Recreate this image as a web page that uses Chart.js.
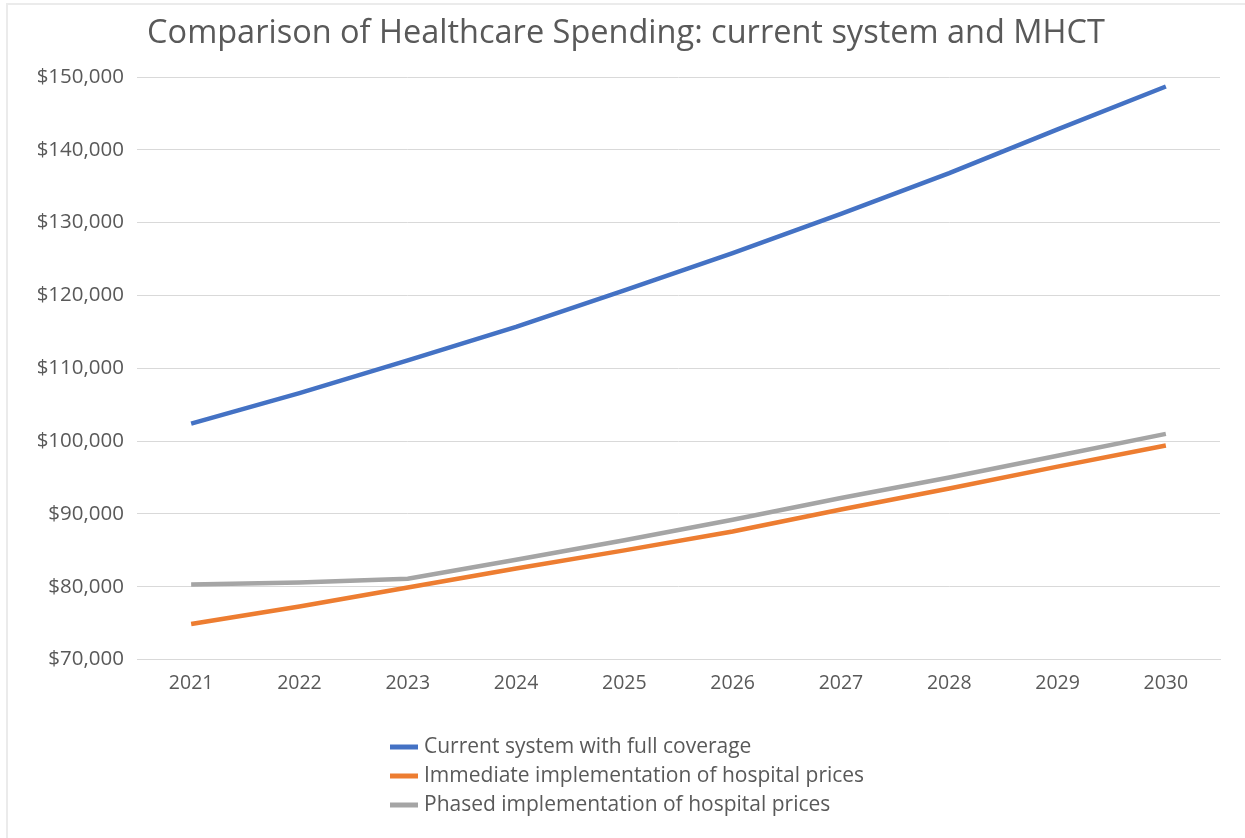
<!DOCTYPE html>
<html>
<head>
<meta charset="utf-8">
<title>Healthcare Spending</title>
<script src="https://cdn.jsdelivr.net/npm/chart.js@4/dist/chart.umd.min.js"></script>
<style>
  html, body { margin: 0; padding: 0; background: #fff; overflow: hidden; }
  #wrap {
    position: relative;
    width: 1239px;
    height: 835px;
    box-sizing: border-box;
    border-left: 2px solid #ebebeb;
    border-top: 2px solid #ebebeb;
    margin-left: 6px;
    margin-top: 3px;
  }
  #wrap canvas { display: block; }
</style>
</head>
<body>
<div id="wrap"><canvas id="spending" width="1237" height="833"></canvas></div>
<script>
var years = ["2021", "2022", "2023", "2024", "2025", "2026", "2027", "2028", "2029", "2030"];
var currentSystem = [102400, 106600, 111100, 115700, 120700, 125800, 131200, 136800, 142800, 148700];
var immediatePrices = [74900, 77300, 79900, 82500, 85000, 87600, 90600, 93500, 96500, 99400];
var phasedPrices = [80300, 80600, 81100, 83700, 86400, 89200, 92200, 95000, 98000, 101000];
var seriesNames = [
    "Current system with full coverage",
    "Immediate implementation of hospital prices",
    "Phased implementation of hospital prices"
];
var seriesColors = ["#4472C4", "#ED7D31", "#A5A5A5"];

var textColor = "#595959";
var gridColor = "#d9d9d9";
var fontFamily = "'Open Sans', 'Segoe UI', sans-serif";

// legend stacked one entry per row under the plot
var stackedLegend = {
    id: 'stackedLegend',
    afterDraw: function (chart) {
        var ctx = chart.ctx;
        var x = 382, y = 742, rowH = 29;
        ctx.save();
        ctx.font = "21px " + fontFamily;
        ctx.textBaseline = "middle";
        chart.data.datasets.forEach(function (ds, i) {
            var cy = y + i * rowH;
            ctx.strokeStyle = ds.borderColor;
            ctx.lineWidth = 5;
            ctx.lineCap = "butt";
            ctx.beginPath();
            ctx.moveTo(x, cy);
            ctx.lineTo(x + 28, cy);
            ctx.stroke();
            ctx.fillStyle = textColor;
            ctx.fillText(ds.label, x + 34, cy);
        });
        ctx.restore();
    }
};

function makeSeries(i, values) {
    return {
        label: seriesNames[i],
        data: values,
        borderColor: seriesColors[i],
        backgroundColor: seriesColors[i],
        borderWidth: 4.5,
        pointRadius: 0,
        tension: 0,
        fill: false
    };
}

var ctx = document.getElementById('spending');
var chart = new Chart(ctx, {
    type: 'line',
    data: {
        labels: years,
        datasets: [
            makeSeries(0, currentSystem),
            makeSeries(1, immediatePrices),
            makeSeries(2, phasedPrices)
        ]
    },
    options: {
        responsive: false,
        animation: false,
        layout: { padding: { left: 24, right: 25, top: 0, bottom: 131 } },
        plugins: {
            legend: { display: false },
            tooltip: { enabled: false },
            title: {
                display: true,
                text: "Comparison of Healthcare Spending: current system and MHCT",
                color: textColor,
                font: { family: fontFamily, size: 32.5, weight: 'normal' },
                padding: { top: 9, bottom: 24 }
            }
        },
        scales: {
            x: {
                offset: true,
                grid: { display: false, drawTicks: false },
                border: { display: true, color: gridColor, width: 1 },
                ticks: {
                    color: textColor,
                    font: { family: fontFamily, size: 19.5 },
                    padding: 12,
                    maxRotation: 0
                }
            },
            y: {
                min: 70000,
                max: 150000,
                afterFit: function (scale) { scale.width = 105; },
                grid: { color: gridColor, lineWidth: 1, drawTicks: false },
                border: { display: false },
                ticks: {
                    stepSize: 10000,
                    color: textColor,
                    font: { family: fontFamily, size: 20.5 },
                    padding: 13,
                    callback: function (v) { return '$' + v.toLocaleString('en-US'); }
                }
            }
        }
    },
    plugins: [stackedLegend]
});
</script>
</body>
</html>
